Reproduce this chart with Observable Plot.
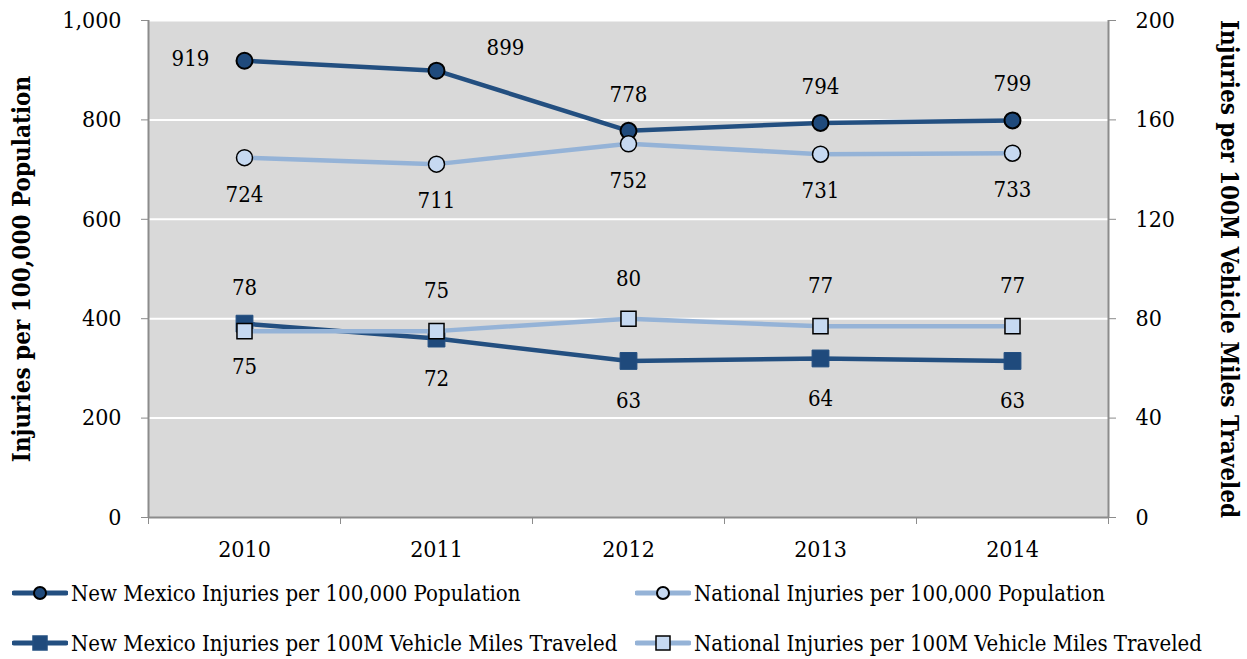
<!DOCTYPE html>
<html>
<head>
<meta charset="utf-8">
<script src="https://cdn.jsdelivr.net/npm/d3@7"></script>
<script src="https://cdn.jsdelivr.net/npm/@observablehq/plot@0.6"></script>
<style>
  body { margin: 0; background: #fff; font-family: "DejaVu Serif Condensed", "DejaVu Serif", serif; font-stretch: condensed; }
  #legend { position: relative; width: 1247px; height: 89px; font-size: 22px; color: #000; }
  .item { position: absolute; display: flex; align-items: center; height: 30px; white-space: nowrap; }
  .item svg { margin-right: 3px; }
</style>
</head>
<body>
<div id="chart"></div>
<div id="legend"></div>
<script>
const years = [2010, 2011, 2012, 2013, 2014];
const nmPop = [919, 899, 778, 794, 799];
const natPop = [724, 711, 752, 731, 733];
const nmVmt = [78, 72, 63, 64, 63];
const natVmt = [75, 75, 80, 77, 77];
const leftTicks = [0, 200, 400, 600, 800, 1000];
const rightTicks = [0, 40, 80, 120, 160, 200];
const seriesNames = [
  "New Mexico Injuries per 100,000 Population",
  "National Injuries per 100,000 Population",
  "New Mexico Injuries per 100M Vehicle Miles Traveled",
  "National Injuries per 100M Vehicle Miles Traveled"
];
const leftTitle = "Injuries per 100,000 Population";
const rightTitle = "Injuries per 100M Vehicle Miles Traveled";

const DARK = "#234f80", LIGHT = "#95b3d7", LIGHTFILL = "#c6d9f1", DARKFILL = "#1f4a7c";
const ratio = d3.max(leftTicks) / d3.max(rightTicks);
const FONT = "'DejaVu Serif Condensed', 'DejaVu Serif', serif";

const mk = (vals, scale) => years.map((x, i) => ({x, v: vals[i], y: vals[i] * scale}));
const dNmPop = mk(nmPop, 1), dNatPop = mk(natPop, 1);
const dNmVmt = mk(nmVmt, ratio), dNatVmt = mk(natVmt, ratio);
const boundaries = [...years.map(y => y - 0.5), years[years.length - 1] + 0.5];

const lbl = {fill: "#000", fontSize: 22, stroke: "#d9d9d9", strokeWidth: 8, paintOrder: "stroke"};

const chart = Plot.plot({
  width: 1247, height: 570,
  marginLeft: 148, marginRight: 139, marginTop: 20, marginBottom: 53,
  style: {fontFamily: FONT, fontStretch: "condensed", fontSize: "22px", color: "#000", background: "#fff"},
  x: {type: "linear", domain: d3.extent(boundaries)},
  y: {domain: [0, d3.max(leftTicks)]},
  marks: [
    Plot.frame({fill: "#d9d9d9", stroke: null}),
    Plot.gridY(leftTicks.slice(1), {stroke: "#fff", strokeOpacity: 1, strokeWidth: 2}),
    Plot.ruleY([0], {stroke: "#8c8c8c", strokeWidth: 2}),
    Plot.ruleX(d3.extent(boundaries), {stroke: "#8c8c8c", strokeWidth: 2}),
    Plot.axisY({anchor: "left", ticks: leftTicks, tickSize: 7, tickPadding: 20, tickFormat: d3.format(","), stroke: "#8c8c8c", fontSize: 23, label: null}),
    Plot.axisY({anchor: "right", ticks: rightTicks.map(v => v * ratio), tickSize: 7, tickPadding: 20, tickFormat: d => d3.format("d")(d / ratio), stroke: "#8c8c8c", fontSize: 23, label: null}),
    Plot.axisX({ticks: years, tickSize: 0, tickPadding: 23, tickFormat: d => String(d), fontSize: 23, label: null}),
    Plot.axisX({ticks: boundaries, tickSize: 7, tickFormat: () => "", stroke: "#8c8c8c", label: null}),
    Plot.text([leftTitle], {frameAnchor: "left", textAnchor: "middle", dx: -126, rotate: -90, fontWeight: "bold", fontSize: 24}),
    Plot.text([rightTitle], {frameAnchor: "right", textAnchor: "middle", dx: 120, rotate: 90, fontWeight: "bold", fontSize: 24}),

    Plot.line(dNmPop, {x: "x", y: "y", stroke: DARK, strokeWidth: 4.5}),
    Plot.dot(dNmPop, {x: "x", y: "y", r: 8, fill: DARKFILL, stroke: "#000", strokeWidth: 2}),
    Plot.line(dNatPop, {x: "x", y: "y", stroke: LIGHT, strokeWidth: 4.5}),
    Plot.dot(dNatPop, {x: "x", y: "y", r: 8, fill: LIGHTFILL, stroke: "#000", strokeWidth: 1.5}),
    Plot.line(dNmVmt, {x: "x", y: "y", stroke: DARK, strokeWidth: 4.5}),
    Plot.dot(dNmVmt, {x: "x", y: "y", symbol: "square", r: 9.5, fill: DARKFILL, stroke: DARK, strokeWidth: 1}),
    Plot.line(dNatVmt, {x: "x", y: "y", stroke: LIGHT, strokeWidth: 4.5}),
    Plot.dot(dNatVmt, {x: "x", y: "y", symbol: "square", r: 8.5, fill: LIGHTFILL, stroke: "#000", strokeWidth: 1.5}),

    // labels
    Plot.text(dNmPop.filter((d, i) => i === 0), {x: "x", y: "y", text: d => String(d.v), dx: -54, dy: -2, ...lbl}),
    Plot.text(dNmPop.filter((d, i) => i === 1), {x: "x", y: "y", text: d => String(d.v), dx: 69, dy: -23, ...lbl}),
    Plot.text(dNmPop.filter((d, i) => i > 1), {x: "x", y: "y", text: d => String(d.v), dy: -36, ...lbl}),
    Plot.text(dNatPop, {x: "x", y: "y", text: d => String(d.v), dy: 37, ...lbl}),
    Plot.text(dNmVmt.filter((d, i) => i === 0), {x: "x", y: "y", text: d => String(d.v), dy: -36, ...lbl}),
    Plot.text(dNmVmt.filter((d, i) => i > 0), {x: "x", y: "y", text: d => String(d.v), dy: 40, ...lbl}),
    Plot.text(dNatVmt.filter((d, i) => i === 0), {x: "x", y: "y", text: d => String(d.v), dy: 36, ...lbl}),
    Plot.text(dNatVmt.filter((d, i) => i > 0), {x: "x", y: "y", text: d => String(d.v), dy: -40, ...lbl})
  ]
});
document.getElementById("chart").appendChild(chart);

// legend
const legendDefs = [
  {name: seriesNames[0], line: DARK, shape: "circle", fill: DARKFILL, stroke: "#000", left: 12, top: 8},
  {name: seriesNames[1], line: LIGHT, shape: "circle", fill: LIGHTFILL, stroke: "#000", left: 635, top: 8},
  {name: seriesNames[2], line: DARK, shape: "square", fill: DARKFILL, stroke: DARK, left: 12, top: 58},
  {name: seriesNames[3], line: LIGHT, shape: "square", fill: LIGHTFILL, stroke: "#000", left: 635, top: 58}
];
const legend = d3.select("#legend");
for (const d of legendDefs) {
  const item = legend.append("div").attr("class", "item").style("left", d.left + "px").style("top", d.top + "px");
  const s = item.append("svg").attr("width", 56).attr("height", 20);
  s.append("line").attr("x1", 2).attr("x2", 54).attr("y1", 10).attr("y2", 10)
    .attr("stroke", d.line).attr("stroke-width", 5).attr("stroke-linecap", "round");
  if (d.shape === "circle") {
    s.append("circle").attr("cx", 28).attr("cy", 10).attr("r", 6).attr("fill", d.fill).attr("stroke", d.stroke).attr("stroke-width", 2);
  } else {
    s.append("rect").attr("x", 21).attr("y", 3).attr("width", 14).attr("height", 14).attr("fill", d.fill).attr("stroke", d.stroke).attr("stroke-width", 1.5);
  }
  item.append("span").text(d.name);
}
</script>
</body>
</html>
